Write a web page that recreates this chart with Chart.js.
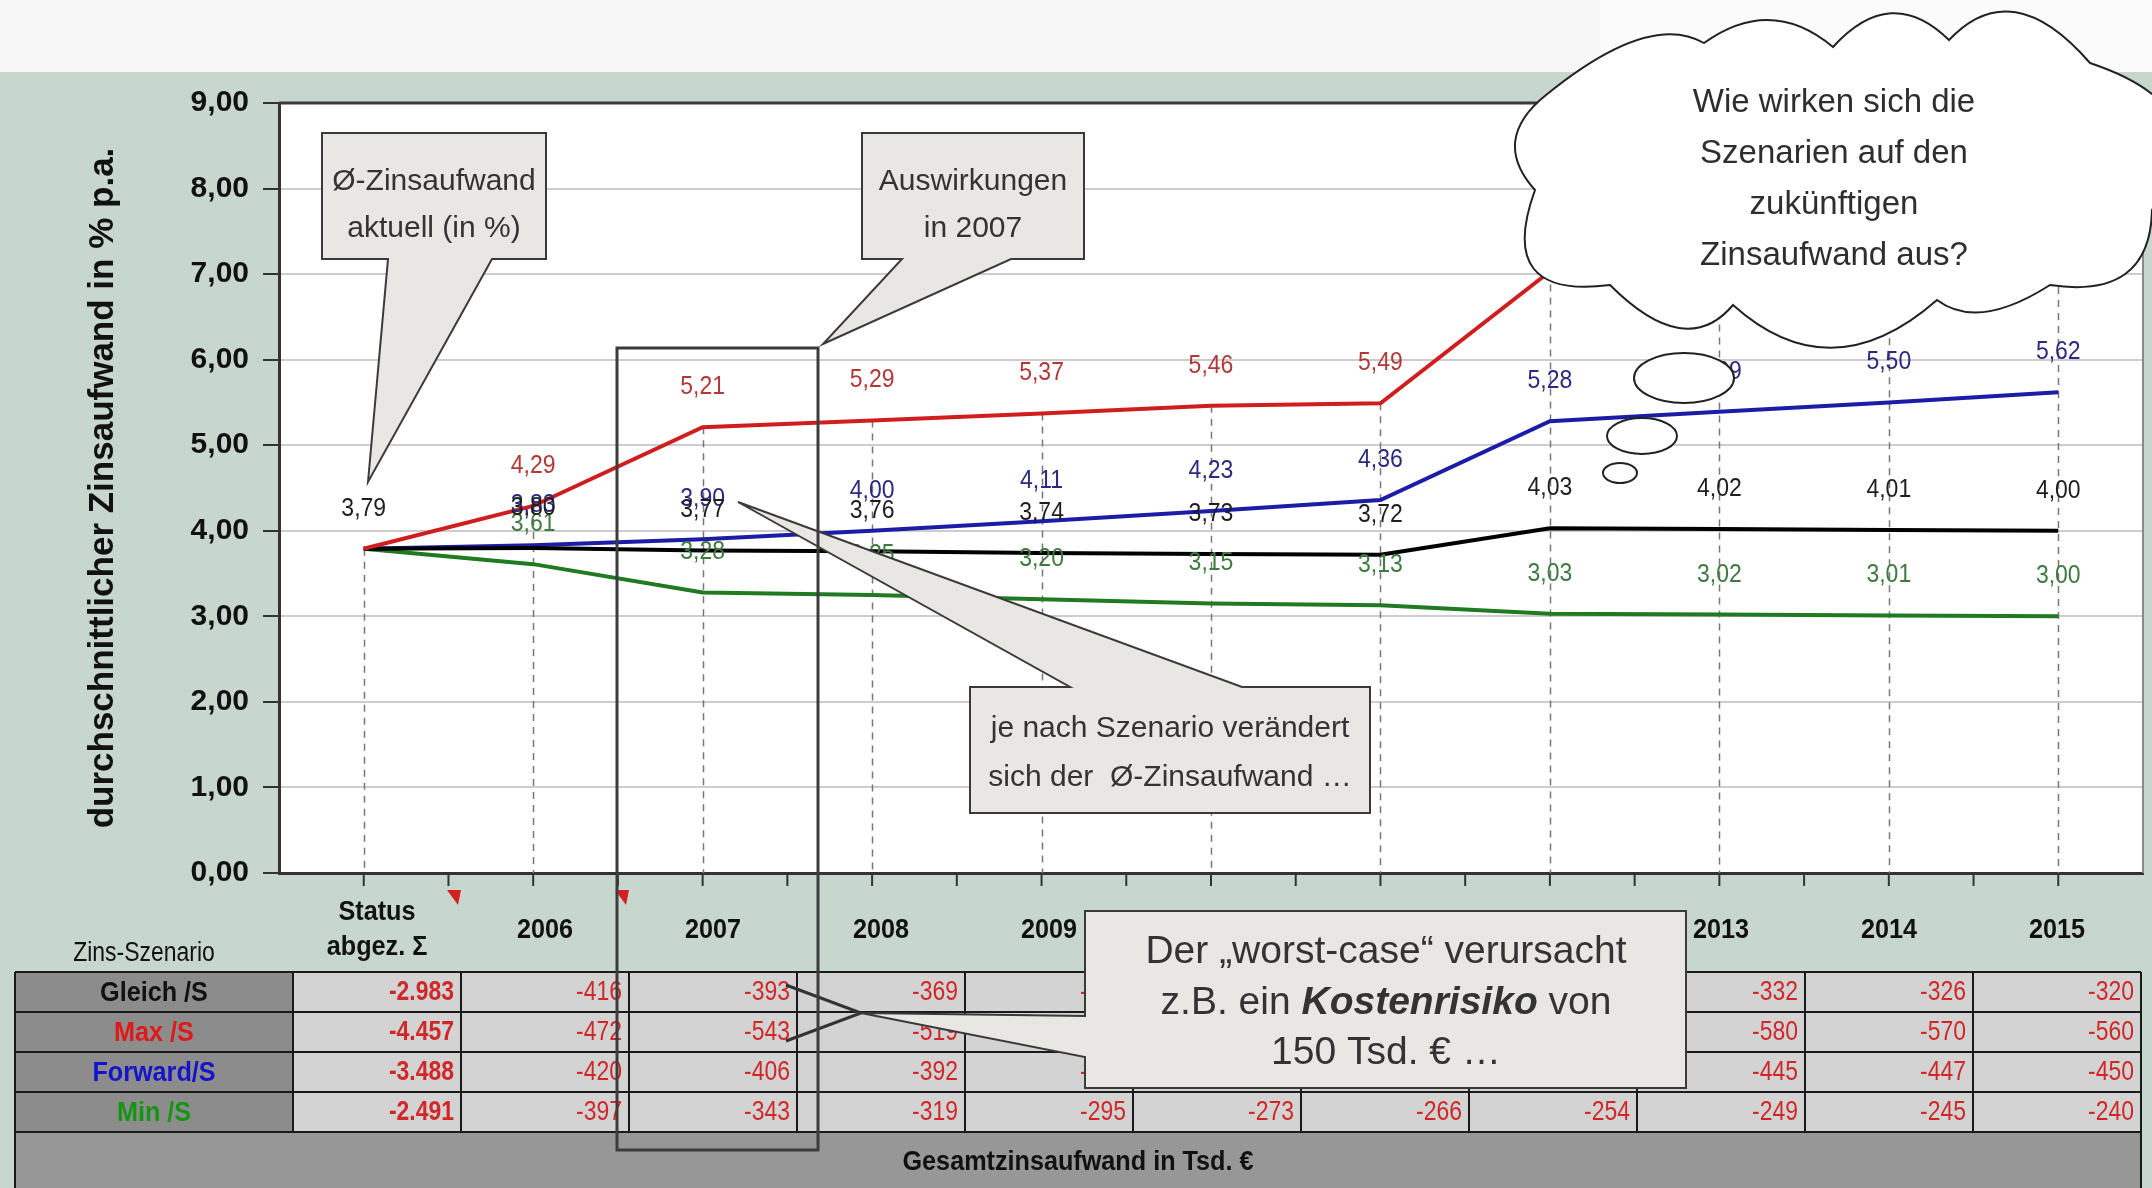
<!DOCTYPE html>
<html>
<head>
<meta charset="utf-8">
<title>Zinsaufwand je Szenario</title>
<script src="https://cdn.jsdelivr.net/npm/chart.js@4.4.1/dist/chart.umd.min.js"></script>
<style>
  html, body { margin: 0; padding: 0; background: #f6f6f6; }
  canvas { display: block; }
</style>
</head>
<body>
<canvas id="zinsChart" width="2152" height="1188"></canvas>
<script>
// --- data -------------------------------------------------------------------
const categories = [['Status', 'abgez. Σ'], '2006', '2007', '2008', '2009', '2010', '2011', '2012', '2013', '2014', '2015'];

// durchschnittlicher Zinsaufwand in % p.a.
const gleichRate  = [3.79, 3.80, 3.77, 3.76, 3.74, 3.73, 3.72, 4.03, 4.02, 4.01, 4.00];
const maxRate     = [3.79, 4.29, 5.21, 5.29, 5.37, 5.46, 5.49, 7.03, 7.02, 7.01, 7.00];
const forwardRate = [3.79, 3.83, 3.90, 4.00, 4.11, 4.23, 4.36, 5.28, 5.39, 5.50, 5.62];
const minRate     = [3.79, 3.61, 3.28, 3.25, 3.20, 3.15, 3.13, 3.03, 3.02, 3.01, 3.00];

// Gesamtzinsaufwand in Tsd. € (first entry = Status abgez. Σ)
const gleichCost  = [-2983, -416, -393, -369, -345, -323, -316, -338, -332, -326, -320];
const maxCost     = [-4457, -472, -543, -519, -495, -473, -467, -590, -580, -570, -560];
const forwardCost = [-3488, -420, -406, -392, -379, -367, -371, -442, -445, -447, -450];
const minCost     = [-2491, -397, -343, -319, -295, -273, -266, -254, -249, -245, -240];

const yTicks = [0, 1, 2, 3, 4, 5, 6, 7, 8, 9];

const scenarios = [
  { name: 'Gleich /S',  rate: gleichRate,  cost: gleichCost,  line: '#000000', label: '#1e1e1e', head: '#111111', order: 1 },
  { name: 'Max /S',     rate: maxRate,     cost: maxCost,     line: '#d01e1e', label: '#b23838', head: '#e01818', order: 0 },
  { name: 'Forward/S',  rate: forwardRate, cost: forwardCost, line: '#1c1ca6', label: '#2a2a80', head: '#1414c8', order: 2 },
  { name: 'Min /S',     rate: minRate,     cost: minCost,     line: '#1f7a22', label: '#3f7a40', head: '#149614', order: 3 }
];

const FONT = "'Liberation Sans', Arial, sans-serif";
const fmtRate = v => v.toFixed(2).replace('.', ',');
const fmtCost = v => {
  const s = String(Math.abs(v)).replace(/\B(?=(\d{3})+(?!\d))/g, '.');
  return (v < 0 ? '-' : '') + s;
};

// --- helpers ----------------------------------------------------------------
// text squeezed horizontally (the original uses a narrow bitmap font)
function narrowText(ctx, t, x, y, sx) {
  ctx.save();
  ctx.translate(x, y);
  ctx.scale(sx, 1);
  ctx.fillText(t, 0, 0);
  ctx.restore();
}

function polygon(ctx, pts, fill, stroke, lw) {
  ctx.beginPath();
  pts.forEach((p, i) => i ? ctx.lineTo(p[0], p[1]) : ctx.moveTo(p[0], p[1]));
  ctx.closePath();
  ctx.fillStyle = fill;
  ctx.fill();
  ctx.lineWidth = lw;
  ctx.strokeStyle = stroke;
  ctx.stroke();
}

function callout(ctx, pts, cx, lines, size) {
  polygon(ctx, pts, '#e9e7e4', '#3a3a3a', 2);
  ctx.fillStyle = '#333';
  ctx.textBaseline = 'middle';
  lines.forEach(l => {
    const parts = l.parts || [{ t: l.t, style: '' }];
    let total = 0;
    parts.forEach(p => { ctx.font = p.style + size + 'px ' + FONT; total += ctx.measureText(p.t).width; });
    let x = cx - total / 2;
    ctx.textAlign = 'left';
    parts.forEach(p => {
      ctx.font = p.style + size + 'px ' + FONT;
      ctx.fillText(p.t, x, l.y);
      x += ctx.measureText(p.t).width;
    });
  });
}

// cloud outline: valley points, each followed by the bump control point to the next valley
const cloudShape = [
  [[1546, 95], [1649, 11]],
  [[1704, 43], [1771, -5]],
  [[1833, 47], [1891, -17]],
  [[1949, 40], [2012, -27]],
  [[2090, 63], [2230, 110]],
  [[2152, 210], [2150, 300]],
  [[2050, 285], [1978, 331]],
  [[1937, 300], [1831, 393]],
  [[1733, 305], [1686, 361]],
  [[1610, 285], [1495, 300]],
  [[1535, 190], [1490, 140]]
];

function cloud(ctx, shape) {
  ctx.beginPath();
  ctx.moveTo(shape[0][0][0], shape[0][0][1]);
  shape.forEach((seg, i) => {
    const next = shape[(i + 1) % shape.length][0];
    ctx.quadraticCurveTo(seg[1][0], seg[1][1], next[0], next[1]);
  });
  ctx.closePath();
  ctx.fillStyle = '#ffffff';
  ctx.fill();
  ctx.lineWidth = 2;
  ctx.strokeStyle = '#222';
  ctx.stroke();
}

function ellipse(ctx, x, y, rx, ry) {
  ctx.beginPath();
  ctx.ellipse(x, y, rx, ry, 0, 0, 2 * Math.PI);
  ctx.fillStyle = '#fff';
  ctx.fill();
  ctx.lineWidth = 2;
  ctx.strokeStyle = '#222';
  ctx.stroke();
}

// --- plugins ----------------------------------------------------------------
const panelPlugin = {
  id: 'panel',
  beforeDraw(chart) {
    const { ctx, chartArea: a, width, height } = chart;
    ctx.save();
    ctx.fillStyle = '#f6f6f6';
    ctx.fillRect(0, 0, width, 72);
    ctx.fillStyle = '#fbfbfb';
    ctx.fillRect(1600, 0, width - 1600, 72);
    ctx.fillStyle = '#c7d7cd';
    ctx.fillRect(0, 72, width, height - 72);
    ctx.fillStyle = '#ffffff';
    ctx.fillRect(a.left, a.top, a.right - a.left, a.bottom - a.top);
    ctx.restore();
  }
};

const dropLinePlugin = {
  id: 'dropLines',
  beforeDatasetsDraw(chart) {
    const { ctx, chartArea: a, scales: { x, y } } = chart;
    ctx.save();
    ctx.strokeStyle = '#777';
    ctx.lineWidth = 1.5;
    ctx.setLineDash([7, 6]);
    categories.forEach((c, i) => {
      const top = Math.max(...scenarios.map(s => s.rate[i]));
      const px = Math.round(x.getPixelForValue(i)) + 0.5;
      ctx.beginPath();
      ctx.moveTo(px, y.getPixelForValue(top));
      ctx.lineTo(px, a.bottom);
      ctx.stroke();
    });
    ctx.setLineDash([]);
    // tick marks below the category axis, at categories and between them
    ctx.strokeStyle = '#333';
    ctx.lineWidth = 2;
    for (let v = 0; v <= categories.length - 1; v += 0.5) {
      const px = x.getPixelForValue(v);
      ctx.beginPath();
      ctx.moveTo(px, a.bottom);
      ctx.lineTo(px, a.bottom + 13);
      ctx.stroke();
    }
    ctx.restore();
  }
};

const valueLabelPlugin = {
  id: 'valueLabels',
  afterDatasetsDraw(chart) {
    const { ctx } = chart;
    ctx.save();
    ctx.font = '25px ' + FONT;
    ctx.textAlign = 'center';
    ctx.textBaseline = 'middle';
    // draw from bottom of the stack so the Gleich labels end on top
    [3, 2, 1, 0].forEach(di => {
      const s = scenarios[di];
      const meta = chart.getDatasetMeta(di);
      meta.data.forEach((pt, i) => {
        if (i === 0 && di !== 0) return; // all scenarios share the status value
        ctx.fillStyle = s.label;
        narrowText(ctx, fmtRate(s.rate[i]), pt.x, pt.y - 40, 0.92);
      });
    });
    ctx.restore();
  }
};

const overlayPlugin = {
  id: 'overlay',
  afterDraw(chart) {
    const { ctx, chartArea: a } = chart;
    ctx.save();

    // plot frame (top / right)
    ctx.strokeStyle = '#3a3a3a';
    ctx.lineWidth = 3;
    ctx.beginPath();
    ctx.moveTo(a.left, a.top);
    ctx.lineTo(a.right, a.top);
    ctx.stroke();
    ctx.strokeStyle = '#8a8a8a';
    ctx.lineWidth = 2;
    ctx.beginPath();
    ctx.moveTo(a.right, a.top);
    ctx.lineTo(a.right, a.bottom);
    ctx.stroke();

    // --- data table ---
    const tLeft = 15, tLabel = a.left + 14, tRight = a.right - 2;
    const colW = (tRight - tLabel) / categories.length;
    const rowTop = 972, rowH = 40;
    const footTop = rowTop + rowH * scenarios.length;

    // header
    ctx.fillStyle = '#111';
    ctx.textAlign = 'center';
    ctx.textBaseline = 'middle';
    ctx.font = '27px ' + FONT;
    narrowText(ctx, 'Zins-Szenario', 144, 954, 0.85);
    ctx.font = 'bold 28px ' + FONT;
    categories.forEach((c, i) => {
      const cx = tLabel + colW * (i + 0.5);
      if (Array.isArray(c)) {
        narrowText(ctx, c[0], cx, 912, 0.9);
        narrowText(ctx, c[1], cx, 947, 0.9);
      } else {
        narrowText(ctx, c, cx, 930, 0.9);
      }
    });
    // comment markers
    ctx.fillStyle = '#d42020';
    [1, 2].forEach(k => {
      const r = tLabel + colW * k;
      ctx.beginPath();
      ctx.moveTo(r - 14, 890);
      ctx.lineTo(r, 890);
      ctx.lineTo(r - 3, 905);
      ctx.closePath();
      ctx.fill();
    });

    // rows
    scenarios.forEach((s, r) => {
      const y0 = rowTop + r * rowH;
      ctx.fillStyle = '#8c8c8c';
      ctx.fillRect(tLeft, y0, tLabel - tLeft, rowH);
      ctx.fillStyle = '#d3d3d3';
      ctx.fillRect(tLabel, y0, tRight - tLabel, rowH);
      ctx.font = 'bold 28px ' + FONT;
      ctx.fillStyle = s.head;
      ctx.textAlign = 'center';
      narrowText(ctx, s.name, (tLeft + tLabel) / 2, y0 + rowH / 2 + 1, 0.9);
      ctx.textAlign = 'right';
      ctx.fillStyle = '#d02828';
      s.cost.forEach((v, i) => {
        ctx.font = (i === 0 ? 'bold ' : '') + '27px ' + FONT;
        narrowText(ctx, fmtCost(v), tLabel + colW * (i + 1) - 7, y0 + rowH / 2 + 1, 0.85);
      });
    });
    // footer
    ctx.fillStyle = '#979797';
    ctx.fillRect(tLeft, footTop, tRight - tLeft, 1188 - footTop);
    ctx.fillStyle = '#111';
    ctx.textAlign = 'center';
    ctx.font = 'bold 28px ' + FONT;
    narrowText(ctx, 'Gesamtzinsaufwand in Tsd. €', (tLeft + tRight) / 2, footTop + 30, 0.9);
    // table grid
    ctx.strokeStyle = '#1a1a1a';
    ctx.lineWidth = 2;
    for (let r = 0; r <= scenarios.length; r++) {
      ctx.beginPath();
      ctx.moveTo(tLeft, rowTop + r * rowH);
      ctx.lineTo(tRight, rowTop + r * rowH);
      ctx.stroke();
    }
    ctx.beginPath();
    ctx.moveTo(tLeft, rowTop);
    ctx.lineTo(tLeft, 1188);
    ctx.moveTo(tRight, rowTop);
    ctx.lineTo(tRight, 1188);
    ctx.stroke();
    for (let i = 0; i <= categories.length; i++) {
      const xx = tLabel + colW * i;
      ctx.beginPath();
      ctx.moveTo(xx, rowTop);
      ctx.lineTo(xx, footTop);
      ctx.stroke();
    }

    // --- callouts ---
    callout(ctx, [[322, 133], [546, 133], [546, 259], [492, 259], [368, 482], [388, 259], [322, 259]],
      434, [{ t: 'Ø-Zinsaufwand', y: 182 }, { t: 'aktuell (in %)', y: 229 }], 30);
    callout(ctx, [[862, 133], [1084, 133], [1084, 259], [1011, 259], [823, 344], [902, 259], [862, 259]],
      973, [{ t: 'Auswirkungen', y: 182 }, { t: 'in 2007', y: 229 }], 30);
    callout(ctx, [[970, 687], [1070, 687], [738, 502], [1242, 687], [1370, 687], [1370, 813], [970, 813]],
      1170, [{ t: 'je nach Szenario verändert', y: 729 }, { t: 'sich der  Ø-Zinsaufwand …', y: 778 }], 30);

    // connectors from the 2007 cells to the worst-case callout
    ctx.strokeStyle = '#333';
    ctx.lineWidth = 3;
    ctx.beginPath();
    ctx.moveTo(786, 985);
    ctx.lineTo(861, 1013);
    ctx.lineTo(786, 1041);
    ctx.stroke();
    callout(ctx, [[1085, 911], [1686, 911], [1686, 1088], [1085, 1088], [1085, 1057], [861, 1013], [1085, 1016]],
      1386, [
        { t: 'Der „worst-case“ verursacht', y: 952 },
        { y: 1003, parts: [
          { t: 'z.B. ein ', style: '' },
          { t: 'Kostenrisiko', style: 'italic bold ' },
          { t: ' von', style: '' }
        ] },
        { t: '150 Tsd. € …', y: 1053 }
      ], 39);

    // 2007 highlight frame
    ctx.strokeStyle = '#3c3c3c';
    ctx.lineWidth = 3;
    ctx.strokeRect(617, 348, 201, 802);

    // thought cloud
    cloud(ctx, cloudShape);
    ellipse(ctx, 1684, 378, 50, 25);
    ellipse(ctx, 1642, 436, 35, 18);
    ellipse(ctx, 1620, 473, 17, 10);
    ctx.fillStyle = '#2e2e2e';
    ctx.textAlign = 'center';
    ctx.textBaseline = 'middle';
    ctx.font = '33px ' + FONT;
    ['Wie wirken sich die', 'Szenarien auf den', 'zukünftigen', 'Zinsaufwand aus?']
      .forEach((t, i) => ctx.fillText(t, 1834, 103 + i * 51));

    ctx.restore();
  }
};

// --- chart ------------------------------------------------------------------
const ctx = document.getElementById('zinsChart').getContext('2d');
new Chart(ctx, {
  type: 'line',
  data: {
    labels: categories,
    datasets: scenarios.map(s => ({
      label: s.name,
      data: s.rate,
      borderColor: s.line,
      borderWidth: 4,
      pointRadius: 0,
      tension: 0,
      fill: false,
      order: s.order
    }))
  },
  options: {
    responsive: false,
    devicePixelRatio: 1,
    animation: false,
    layout: { padding: { top: 103, right: 9, left: 0, bottom: 0 } },
    plugins: {
      legend: { display: false },
      tooltip: { enabled: false }
    },
    scales: {
      x: {
        offset: true,
        ticks: { display: false },
        grid: { display: false },
        border: { display: true, color: '#333', width: 3 },
        afterFit: scale => { scale.height = 315; }
      },
      y: {
        min: 0,
        max: 9,
        afterBuildTicks: scale => { scale.ticks = yTicks.map(v => ({ value: v })); },
        ticks: {
          color: '#111',
          padding: 14,
          font: { family: FONT, size: 30, weight: 'bold' },
          callback: v => fmtRate(v)
        },
        grid: { color: '#cdcdcd', lineWidth: 2, tickColor: '#333', tickLength: 16 },
        border: { display: true, color: '#333', width: 3 },
        title: {
          display: true,
          text: 'durchschnittlicher Zinsaufwand in % p.a.',
          color: '#111',
          font: { family: FONT, size: 35, weight: 'bold' },
          padding: { top: 82, bottom: 0 }
        },
        afterFit: scale => { scale.width = 279; }
      }
    }
  },
  plugins: [panelPlugin, dropLinePlugin, valueLabelPlugin, overlayPlugin]
});
</script>
</body>
</html>
